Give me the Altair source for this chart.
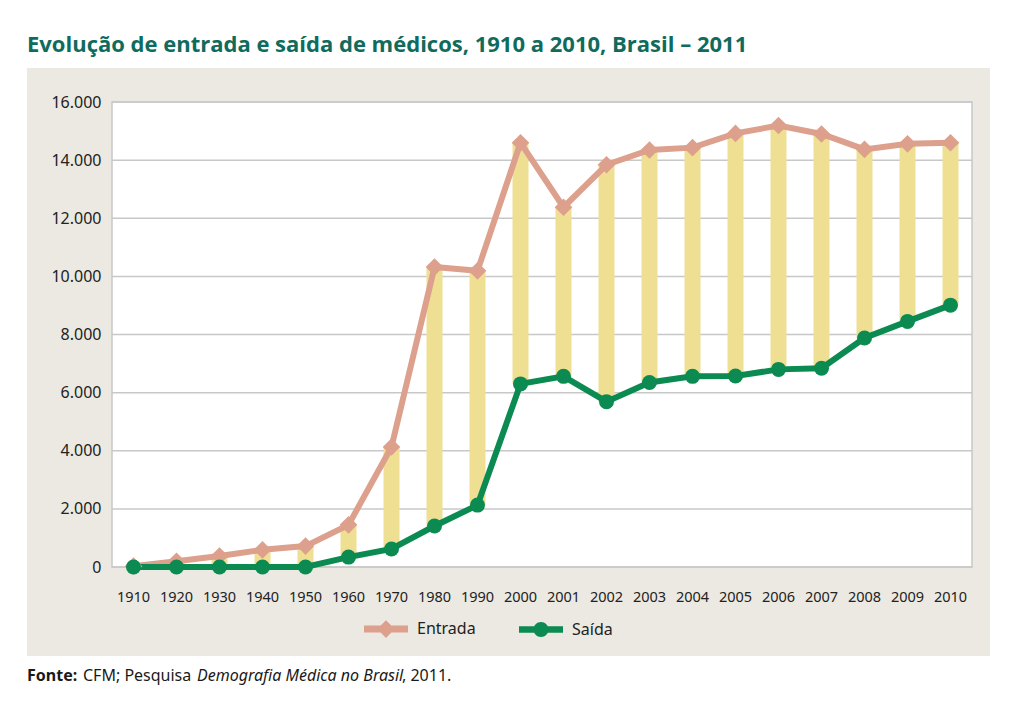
import altair as alt
import pandas as pd

# ---- data ----
anos = ["1910", "1920", "1930", "1940", "1950", "1960", "1970", "1980", "1990", "2000",
        "2001", "2002", "2003", "2004", "2005", "2006", "2007", "2008", "2009", "2010"]
entrada = [30, 200, 380, 590, 720, 1450, 4130, 10320, 10190, 14600,
           12380, 13840, 14350, 14430, 14920, 15190, 14900, 14370, 14560, 14600]
saida = [0, 0, 0, 0, 0, 340, 620, 1410, 2130, 6300,
         6560, 5690, 6350, 6560, 6570, 6800, 6840, 7880, 8450, 9010]
series = ["Entrada", "Saída"]
grid_values = [0, 2000, 4000, 6000, 8000, 10000, 12000, 14000, 16000]

title_text = "Evolução de entrada e saída de médicos, 1910 a 2010, Brasil – 2011"

# ---- styles ----
PINK = "#dca08c"
GREEN = "#0b8a52"
YELLOW = "#efdf92"
BEIGE = "#ebe9e1"
TEAL = "#0f6b5c"
GRID = "#c8c8c8"
FONT = "Noto Sans"

W, H = 860, 465

df = pd.DataFrame({"ano": anos, "Entrada": entrada, "Saída": saida})
grid_df = pd.DataFrame({"v": grid_values})


def one(text=""):
    return alt.Data(values=[{"t": text}])


x_enc = alt.X("ano:N", sort=anos, title=None,
              scale=alt.Scale(paddingInner=0, paddingOuter=0),
              axis=alt.Axis(labelAngle=0, ticks=False, domain=False, grid=False,
                            labelPadding=23, labelFontSize=14.5, zindex=1))
y_scale = alt.Scale(domain=[0, 16000], nice=False)
y_axis = alt.Axis(values=grid_values, ticks=False, domain=False, grid=False,
                  labelPadding=11, labelFontSize=16, zindex=1,
                  labelExpr="replace(format(datum.value, ','), ',', '.')")

panel = alt.Chart(one()).mark_rect(color=BEIGE).encode(
    x=alt.value(-85), x2=alt.value(878), y=alt.value(-34), y2=alt.value(554))

plot_bg = alt.Chart(one()).mark_rect(fill="white", stroke=GRID, strokeWidth=1.5).encode(
    x=alt.value(0), x2=alt.value(W), y=alt.value(0), y2=alt.value(H))

gridlines = alt.Chart(grid_df).mark_rule(color=GRID, strokeWidth=1.5).encode(
    y=alt.Y("v:Q", scale=y_scale, axis=y_axis, title=None))

bars = alt.Chart(df).mark_bar(size=16, color=YELLOW).encode(
    x=x_enc,
    y=alt.Y("Saída:Q", scale=y_scale, title=None),
    y2="Entrada:Q")

color_scale = alt.Scale(domain=series, range=[PINK, GREEN])

sym_entrada = "M-1,-0.16L1,-0.16L1,0.16L-1,0.16ZM-0.4,0L0,-0.4L0.4,0L0,0.4Z"
sym_saida = "M-1,-0.15L1,-0.15L1,0.15L-1,0.15ZM0.34,0A0.34,0.34 0 1,1 -0.34,0A0.34,0.34 0 1,1 0.34,0Z"

long = alt.Chart(df).transform_fold(series, as_=["serie", "valor"])


def series_layers(name, color, shape, size):
    sub = long.transform_filter(alt.datum.serie == name)
    enc = dict(x=x_enc, y=alt.Y("valor:Q", scale=y_scale, title=None))
    line = sub.mark_line(strokeWidth=6, color=color).encode(**enc)
    pts = sub.mark_point(filled=True, opacity=1, shape=shape, size=size, color=color).encode(**enc)
    return line, pts


line_e, pts_e = series_layers("Entrada", PINK, "diamond", 310)
line_s, pts_s = series_layers("Saída", GREEN, "circle", 225)

legend_layer = long.transform_filter("datum.valor < 0").mark_point(
    filled=True, opacity=1).encode(
    x=x_enc, y=alt.Y("valor:Q", scale=y_scale, title=None),
    shape=alt.Shape("serie:N", scale=alt.Scale(domain=series, range=[sym_entrada, sym_saida]),
                    legend=alt.Legend(title=None)),
    color=alt.Color("serie:N", scale=color_scale, legend=alt.Legend(
        title=None, orient="none", legendX=252, legendY=505, direction="horizontal",
        padding=0, symbolSize=1936, symbolStrokeWidth=0, symbolOpacity=1, labelOffset=9,
        columnPadding=43, labelFont=FONT, labelFontSize=16, labelColor="#222")))

title = alt.Chart(one(title_text)).mark_text(
    align="left", baseline="middle", font="Open Sans",
    fontSize=22, fontWeight="bold", color=TEAL).encode(
    x=alt.value(-85), y=alt.value(-57), text="t:N")


def foot(text, xpos, weight="normal", style="normal"):
    return alt.Chart(one(text)).mark_text(
        align="left", baseline="middle", font=FONT, fontSize=16,
        fontWeight=weight, fontStyle=style, color="#1a1a1a").encode(
        x=alt.value(xpos), y=alt.value(574), text="t:N")


footer = [
    foot("Fonte:", -85, weight="bold"),
    foot("CFM; Pesquisa", -29),
    foot("Demografia Médica no Brasil", 85, style="italic"),
    foot(", 2011.", 290),
]

chart = alt.layer(panel, plot_bg, gridlines, bars, line_e, line_s, pts_e, pts_s,
                  legend_layer, title, *footer).properties(
    width=W, height=H,
    autosize=alt.AutoSizeParams(type="none"),
    padding={"left": 112, "top": 102, "right": 51, "bottom": 156},
    background="white",
).configure_view(stroke=None).configure_axis(
    labelFont=FONT, labelFontSize=14, labelColor="#222")

chart.save("out.html", embed_options={"renderer": "svg", "actions": False})
